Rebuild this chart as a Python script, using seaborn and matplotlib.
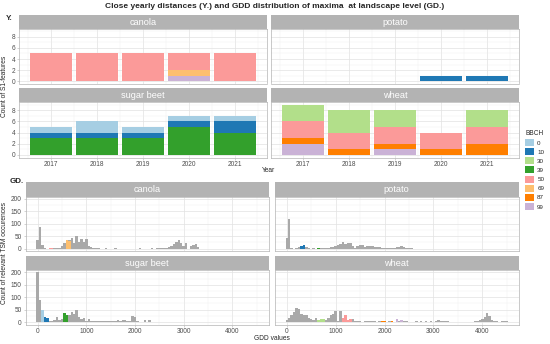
import numpy as np
import pandas as pd
import matplotlib
matplotlib.use("Agg")
import matplotlib.pyplot as plt
from matplotlib.patches import Patch
import seaborn as sns

## Data
crops = ["canola", "potato", "sugar beet", "wheat"]
years = [2017, 2018, 2019, 2020, 2021]
bbch_levels = ["0", "10", "30", "39", "50", "69", "87", "99"]
bbch_colors = ["#A6CEE3", "#1F78B4", "#B2DF8A", "#33A02C",
               "#FB9A99", "#FDBF6F", "#FF7F00", "#CAB2D6"]

# Y. : count of S1-features per year, split by BBCH stage
canola_year = {"50": [5, 5, 5, 3, 5], "69": [0, 0, 0, 1, 0], "99": [0, 0, 0, 1, 0]}
potato_year = {"10": [0, 0, 0, 1, 1]}
sugarbeet_year = {"0": [1, 2, 1, 1, 1], "10": [1, 1, 1, 1, 2], "39": [3, 3, 3, 5, 4]}
wheat_year = {"30": [3, 4, 3, 0, 3], "50": [3, 3, 3, 3, 3],
              "87": [1, 1, 1, 1, 2], "99": [2, 0, 1, 0, 0]}

# GD. : relevant TSM occurences per 50-GDD bin (bin centre: count)
canola_gdd = {0: 34, 50: 86, 100: 15, 150: 1, 250: 4, 300: 3, 350: 1, 400: 1, 450: 3,
              500: 11, 550: 24, 600: 34, 650: 34, 700: 42, 750: 24, 800: 52, 850: 26,
              900: 41, 950: 25, 1000: 38, 1050: 11, 1100: 6, 1150: 3, 1200: 1, 1250: 1,
              1400: 1, 1600: 1, 2100: 1, 2350: 1, 2450: 1, 2500: 2, 2550: 3, 2600: 3,
              2650: 4, 2700: 5, 2750: 10, 2800: 20, 2850: 25, 2900: 34, 2950: 22,
              3000: 12, 3050: 22, 3150: 10, 3200: 15, 3250: 18, 3300: 8}
potato_gdd = {0: 45, 50: 120, 100: 2, 200: 2, 250: 5, 300: 10, 350: 16, 400: 5, 450: 2,
              550: 1, 650: 3, 700: 1, 750: 3, 800: 3, 850: 4, 900: 5, 950: 8, 1000: 12,
              1050: 14, 1100: 20, 1150: 28, 1200: 20, 1250: 24, 1300: 22, 1350: 10,
              1400: 4, 1450: 12, 1500: 14, 1550: 14, 1600: 5, 1650: 11, 1700: 11,
              1750: 11, 1800: 5, 1850: 6, 1900: 6, 1950: 3, 2000: 3, 2050: 2, 2100: 3,
              2150: 2, 2200: 3, 2250: 5, 2300: 8, 2350: 12, 2400: 5, 2450: 2, 2500: 1,
              2550: 2}
sugarbeet_gdd = {0: 200, 50: 90, 100: 50, 150: 20, 200: 18, 250: 6, 300: 3, 350: 8,
                 400: 20, 450: 8, 500: 12, 550: 35, 600: 30, 650: 28, 700: 40, 750: 34,
                 800: 47, 850: 20, 900: 12, 950: 15, 1000: 5, 1050: 12, 1100: 4, 1150: 5,
                 1200: 5, 1250: 3, 1300: 3, 1350: 5, 1400: 5, 1450: 6, 1500: 5, 1550: 4,
                 1600: 6, 1650: 8, 1700: 5, 1750: 7, 1800: 10, 1850: 3, 1900: 3,
                 1950: 25, 2000: 20, 2050: 3, 2150: 2, 2200: 10, 2250: 1, 2300: 8}
wheat_gdd = {0: 8, 50: 16, 100: 27, 150: 40, 200: 57, 250: 54, 300: 34, 350: 27, 400: 27,
             450: 16, 500: 11, 550: 7, 600: 16, 650: 10, 700: 12, 750: 14, 800: 8,
             850: 16, 900: 27, 950: 34, 1000: 43, 1050: 3, 1100: 43, 1150: 15, 1200: 28,
             1250: 10, 1300: 12, 1350: 12, 1400: 5, 1450: 3, 1500: 5, 1550: 1, 1600: 5,
             1650: 3, 1700: 5, 1750: 4, 1800: 4, 1850: 2, 1900: 4, 1950: 5, 2000: 6,
             2050: 2, 2100: 3, 2150: 6, 2200: 1, 2250: 12, 2300: 3, 2350: 10, 2400: 3,
             2450: 3, 2500: 2, 2550: 1, 2600: 1, 2650: 3, 2700: 1, 2750: 3, 2800: 1,
             2850: 3, 2900: 1, 2950: 3, 3050: 5, 3100: 8, 3150: 5, 3200: 5, 3250: 5,
             3300: 4, 3850: 3, 3900: 5, 3950: 8, 4000: 12, 4050: 20, 4100: 38,
             4150: 23, 4200: 8, 4250: 3, 4300: 3, 4350: 2, 4400: 3, 4450: 3, 4500: 5}

# bins that carry a BBCH stage: (stage, bin centre, count)
canola_stage = [("50", 250, 4), ("50", 300, 3), ("69", 600, 34), ("69", 650, 30)]
potato_stage = [("10", 300, 10), ("10", 350, 16), ("39", 650, 3)]
sugarbeet_stage = [("0", 100, 50), ("10", 150, 20), ("10", 200, 18),
                   ("39", 550, 35), ("39", 600, 30)]
wheat_stage = [("30", 650, 10), ("30", 700, 12), ("30", 750, 14),
               ("50", 1150, 15), ("50", 1200, 28), ("50", 1250, 10), ("50", 1300, 12),
               ("87", 1950, 5), ("87", 2000, 6), ("87", 2150, 6),
               ("99", 2250, 12), ("99", 2350, 10)]

year_data = [canola_year, potato_year, sugarbeet_year, wheat_year]
gdd_data = [canola_gdd, potato_gdd, sugarbeet_gdd, wheat_gdd]
stage_data = [canola_stage, potato_stage, sugarbeet_stage, wheat_stage]

## Style
sns.set_style("white")
plt.rcParams["font.family"] = ["Liberation Sans", "DejaVu Sans"]
palette = dict(zip(bbch_levels, bbch_colors))
GRID = "#E2E2E2"
GRID_MINOR = "#EEEEEE"
BORDER = "#B3B3B3"
TICK_TXT = "#4D4D4D"
HIST_GREY = "#A9A9A9"

W, H = 550, 344
fig = plt.figure(figsize=(W / 100, H / 100), dpi=100)


def rect(x0, y0, x1, y1):
    return [x0 / W, 1 - y1 / H, (x1 - x0) / W, (y1 - y0) / H]


def add_strip(x0, x1, y0, y1, label):
    s = fig.add_axes(rect(x0, y0, x1, y1))
    s.set_facecolor(BORDER)
    s.set_xticks([])
    s.set_yticks([])
    for sp in s.spines.values():
        sp.set_visible(False)
    s.text(0.5, 0.45, label, ha="center", va="center", color="white", fontsize=6.6)


def style_panel(ax, show_x, show_y):
    ax.grid(which="major", color=GRID, lw=0.5)
    ax.grid(which="minor", color=GRID_MINOR, lw=0.3)
    ax.set_axisbelow(True)
    for sp in ax.spines.values():
        sp.set_color(BORDER)
        sp.set_linewidth(0.5)
    ax.tick_params(which="major", length=1.5, width=0.4, color=BORDER,
                   labelsize=4.7, labelcolor=TICK_TXT, pad=1.2)
    ax.tick_params(which="minor", length=0)
    ax.tick_params(axis="x", bottom=show_x, labelbottom=show_x)
    ax.tick_params(axis="y", left=show_y, labelleft=show_y)
    ax.set_xlabel("")
    ax.set_ylabel("")


# panel geometry (pixels)
top_cols = [(19, 267.3), (270.6, 519.2)]
top_rows = [((15, 29), (29, 83.5)), ((88, 102), (102, 157.5))]
bot_cols = [(25.5, 268.8), (274.5, 519)]
bot_rows = [((182, 196.5), (196.5, 251.2)), ((256, 270), (270, 324.5))]

## Y. stacked yearly bars
for i, crop in enumerate(crops):
    r, c = divmod(i, 2)
    (sy0, sy1), (py0, py1) = top_rows[r]
    x0, x1 = top_cols[c]
    add_strip(x0, x1, sy0, sy1, crop)
    ax = fig.add_axes(rect(x0, py0, x1, py1))
    counts = year_data[i]
    df = pd.DataFrame([(y, k, v[j]) for k, v in counts.items() for j, y in enumerate(years)],
                      columns=["year", "bbch", "n"])
    order = [b for b in bbch_levels if b in counts]
    sns.histplot(data=df, x="year", weights="n", hue="bbch", hue_order=order,
                 palette=palette, multiple="stack", discrete=True, shrink=0.9,
                 alpha=1, linewidth=0, legend=False, ax=ax)
    ax.set_xlim(2016.3, 2021.7)
    ax.set_ylim(-0.45, 9.45)
    ax.set_xticks(years)
    ax.set_xticks([2016.5, 2017.5, 2018.5, 2019.5, 2020.5, 2021.5], minor=True)
    ax.set_yticks([0, 2, 4, 6, 8])
    ax.set_yticks([1, 3, 5, 7, 9], minor=True)
    style_panel(ax, show_x=(r == 1), show_y=(c == 0))

## GD. histograms of GDD values
for i, crop in enumerate(crops):
    r, c = divmod(i, 2)
    (sy0, sy1), (py0, py1) = bot_rows[r]
    x0, x1 = bot_cols[c]
    add_strip(x0, x1, sy0, sy1, crop)
    ax = fig.add_axes(rect(x0, py0, x1, py1))
    counts = gdd_data[i]
    sns.histplot(x=list(counts.keys()), weights=list(counts.values()),
                 binwidth=50, binrange=(-25, 4575), color=HIST_GREY,
                 alpha=1, linewidth=0, ax=ax)
    st = pd.DataFrame(stage_data[i], columns=["bbch", "gdd", "n"])
    order = [b for b in bbch_levels if b in set(st["bbch"])]
    sns.histplot(data=st, x="gdd", weights="n", hue="bbch", hue_order=order,
                 palette=palette, binwidth=50, binrange=(-25, 4575),
                 multiple="layer", alpha=1, linewidth=0, legend=False, ax=ax)
    ax.set_xlim(-250, 4750)
    ax.set_ylim(-10, 210)
    ax.set_xticks([0, 1000, 2000, 3000, 4000])
    ax.set_xticks([500, 1500, 2500, 3500, 4500], minor=True)
    ax.set_yticks([0, 50, 100, 150, 200])
    ax.set_yticks([25, 75, 125, 175], minor=True)
    style_panel(ax, show_x=(r == 1), show_y=(c == 0))

## Titles, tags, axis titles
fig.text(275 / W, 1 - 6.5 / H,
         "Close yearly distances (Y.) and GDD distribution of maxima  at landscape level (GD.)",
         ha="center", va="center", fontsize=6.0, fontweight="bold")
fig.text(6 / W, 1 - 18.5 / H, "Y.", ha="left", va="center", fontsize=5.8, fontweight="bold")
fig.text(10 / W, 1 - 181.5 / H, "GD.", ha="left", va="center", fontsize=5.8, fontweight="bold")
fig.text(5 / W, 1 - 86 / H, "Count of S1-features", rotation=90,
         ha="center", va="center", fontsize=4.8)
fig.text(5 / W, 1 - 253 / H, "Count of relevant TSM occurences", rotation=90,
         ha="center", va="center", fontsize=4.8)
fig.text(269 / W, 1 - 171 / H, "Year", ha="center", va="center", fontsize=4.8)
fig.text(272 / W, 1 - 338 / H, "GDD values", ha="center", va="center", fontsize=4.8)

## Legend
handles = [Patch(facecolor=palette[b], edgecolor="none") for b in bbch_levels]
fig.legend(handles, bbch_levels, title="BBCH", loc="upper left",
           bbox_to_anchor=(525 / W, 1 - 130 / H), frameon=False,
           fontsize=4.5, title_fontsize=4.7, alignment="left",
           handlelength=1.5, handleheight=1.36, labelspacing=0.33,
           handletextpad=0.45, borderpad=0, borderaxespad=0)

fig.savefig("out.png", dpi=100)
